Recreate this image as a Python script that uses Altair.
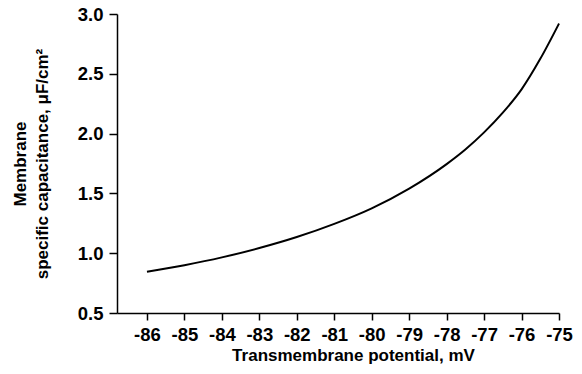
import altair as alt
import pandas as pd

potential_mv = [-86, -85, -84, -83, -82, -81, -80, -79, -78, -77.5, -77, -76.5, -76, -75.5, -75]
capacitance = [0.845, 0.900, 0.965, 1.043, 1.135, 1.245, 1.375, 1.54, 1.745, 1.867, 2.01, 2.175, 2.37, 2.625, 2.92]
x_ticks = [-86, -85, -84, -83, -82, -81, -80, -79, -78, -77, -76, -75]
y_ticks = [0.5, 1.0, 1.5, 2.0, 2.5, 3.0]

df = pd.DataFrame({"v": potential_mv, "c": capacitance})

FONT = "Liberation Sans"

chart = alt.Chart(df).mark_line(color="black", strokeWidth=2, interpolate="monotone").encode(
    x=alt.X("v:Q",
            scale=alt.Scale(domain=[-86.8, -75], nice=False, zero=False),
            axis=alt.Axis(values=x_ticks, title="Transmembrane potential, mV",
                          labelExpr="'' + datum.value", grid=False,
                          domainColor="black", tickColor="black",
                          domainWidth=1.5, tickWidth=1.5, tickSize=7,
                          labelFont=FONT, labelFontSize=18.5, labelFontWeight="bold", labelColor="black",
                          labelPadding=5, labelFlush=False,
                          titleFont=FONT, titleFontSize=17, titleFontWeight="bold", titleColor="black",
                          titlePadding=4, titleX=236, titleAnchor="start", titleAlign="center")),
    y=alt.Y("c:Q",
            scale=alt.Scale(domain=[0.5, 3.0], nice=False, zero=False),
            axis=alt.Axis(values=y_ticks, title=["Membrane", "specific capacitance, μF/cm²"],
                          format=".1f", grid=False, domainColor="black", tickColor="black",
                          domainWidth=1.5, tickWidth=1.5, tickSize=8,
                          labelFont=FONT, labelFontSize=18.5, labelFontWeight="bold", labelColor="black",
                          labelPadding=6, labelFlush=False,
                          titleFont=FONT, titleFontSize=17, titleFontWeight="bold", titleColor="black",
                          titleLineHeight=22, titlePadding=26)),
).properties(
    width=442, height=299,
    padding={"left": 117, "top": 14, "right": 23, "bottom": 61},
    autosize="none",
).configure_view(stroke=None)

chart.save("out.html", embed_options={"renderer": "svg", "actions": False})
